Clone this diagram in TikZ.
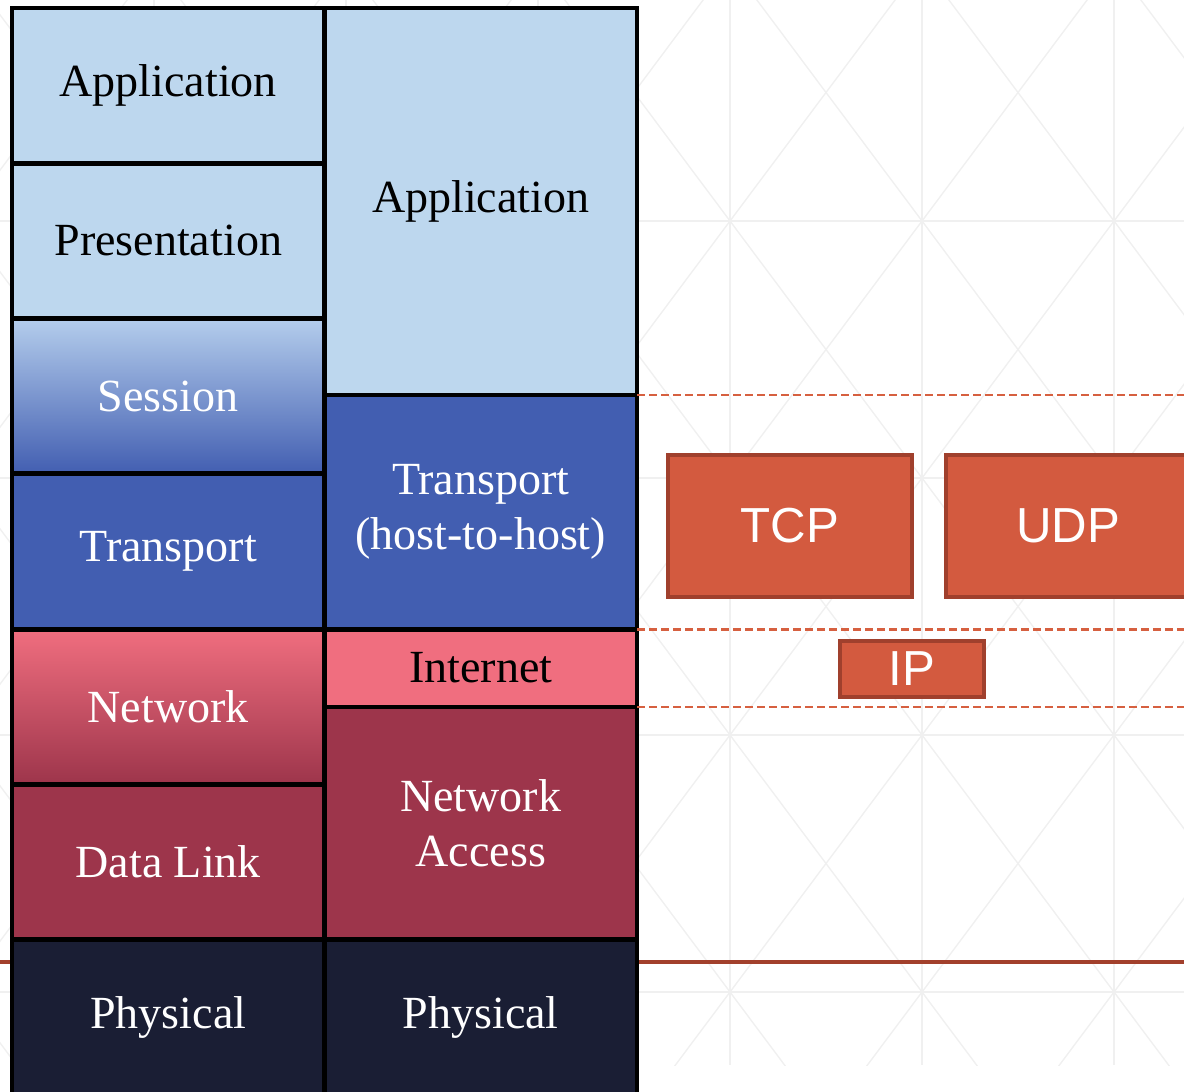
\documentclass[tikz,border=0pt]{standalone}
\usepackage{fontspec}
\setmainfont{Liberation Serif}
\newfontfamily\protofont{Liberation Sans}
\usetikzlibrary{positioning}

\definecolor{appblue}{RGB}{189,215,238}
\definecolor{tpblue}{RGB}{66,94,177}
\definecolor{sesstop}{RGB}{180,205,236}
\definecolor{nettop}{RGB}{240,110,127}
\definecolor{linkred}{RGB}{157,53,75}
\definecolor{physnavy}{RGB}{26,30,52}
\definecolor{protofill}{RGB}{211,90,63}
\definecolor{protoedge}{RGB}{160,64,45}
\definecolor{sepred}{RGB}{214,96,64}
\definecolor{groundline}{RGB}{162,64,44}
\definecolor{gridgray}{RGB}{240,240,240}

\begin{document}
\begin{tikzpicture}[
    layer/.style={draw=black, line width=1.4pt, inner sep=0pt, outer sep=0pt, minimum width=3.125cm, minimum height=1.553cm, align=center, font=\fontsize{13.1}{15.6}\selectfont, text=white},
    lightlayer/.style={layer, fill=appblue, text=black},
    sesslayer/.style={layer, top color=sesstop, bottom color=tpblue},
    translayer/.style={layer, fill=tpblue},
    netlayer/.style={layer, top color=nettop, bottom color=linkred},
    linklayer/.style={layer, fill=linkred},
    physlayer/.style={layer, fill=physnavy},
    proto/.style={draw=protoedge, fill=protofill, line width=1pt, inner sep=0pt, text=white, font=\protofont\fontsize{14}{16}\selectfont},
    sepline/.style={sepred, line width=0.8pt, dash pattern=on 0.08cm off 0.04cm},
    gridline/.style={gridgray, line width=0.4pt}
]
\useasboundingbox (0,0) rectangle (11.84,10.91);

% faint background lattice
\begin{scope}
  \clip (0,0.26) rectangle (11.84,10.91);
  \foreach \i in {-4,...,2}
    \draw[gridline] (7.30+1.92*\i,0.26) -- (7.30+1.92*\i,10.91);
  \foreach \j in {0,...,3}
    \draw[gridline] (0,8.70-2.57*\j) -- (11.84,8.70-2.57*\j);
  \foreach \i in {-7,...,6} {
    \draw[gridline] (7.30+1.92*\i-7.68,8.70+10.28) -- ++(15.36,-20.56);
    \draw[gridline] (7.30+1.92*\i-7.68,8.70-10.28) -- ++(15.36,20.56);
  }
\end{scope}

\draw[groundline, line width=0.9pt] (0,1.29) -- (11.84,1.29);

% OSI column
\node[lightlayer] (osi-app) at (1.6825,10.0535) {Application};
\node[lightlayer] (osi-pres) at (1.6825,8.5005) {Presentation};
\node[sesslayer] (osi-sess) at (1.6825,6.9475) {Session};
\node[translayer] (osi-trans) at (1.6825,5.3945) {Transport};
\node[netlayer] (osi-net) at (1.6825,3.8415) {Network};
\node[linklayer] (osi-link) at (1.6825,2.2885) {Data Link};
\node[physlayer] (osi-phys) at (1.6825,0.7355) {Physical};

% TCP/IP column
\node[lightlayer, minimum height=3.87cm] (tcp-app) at (4.8075,8.895) {Application};
\node[translayer, minimum height=2.342cm] (tcp-trans) at (4.8075,5.789) {Transport\\(host-to-host)};
\node[layer, fill=nettop, text=black, minimum height=0.778cm] (tcp-inet) at (4.8075,4.229) {Internet};
\node[linklayer, minimum height=2.328cm] (tcp-acc) at (4.8075,2.676) {Network\\Access};
\node[physlayer] (tcp-phys) at (4.8075,0.7355) {Physical};

% layer boundaries
\coordinate (edge) at (11.84,0);
\foreach \n in {tcp-app,tcp-trans,tcp-inet}
    \draw[sepline] (\n.south east) -- (\n.south east -| edge);

\node[proto, minimum width=2.44cm, minimum height=1.42cm] (tcp) at (7.90,5.65) {TCP};
\node[proto, minimum width=2.44cm, minimum height=1.42cm] (udp) at (10.68,5.65) {UDP};
\node[proto, minimum width=1.44cm, minimum height=0.56cm] (ip) at (9.12,4.22) {IP};
\end{tikzpicture}
\end{document}
